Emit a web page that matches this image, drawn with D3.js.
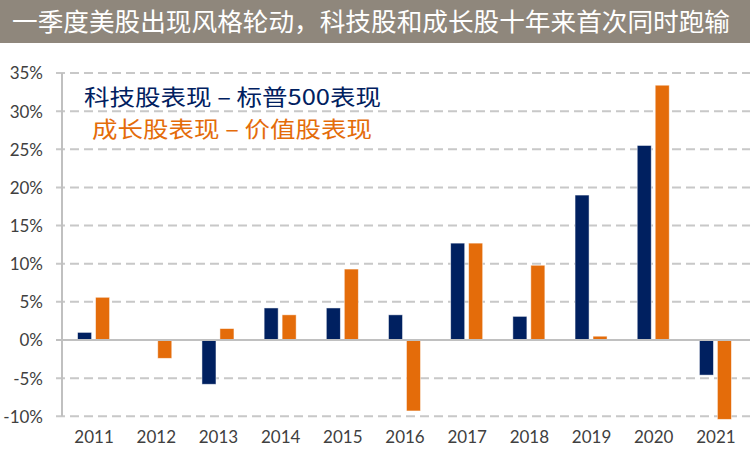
<!DOCTYPE html>
<html><head><meta charset="utf-8">
<script src="https://cdn.jsdelivr.net/npm/d3@7"></script>
<style>
html,body{margin:0;padding:0;background:#fff;}
svg{display:block;}
</style>
</head><body>
<svg id="chart" width="750" height="456"></svg>
<script>
const title = "一季度美股出现风格轮动，科技股和成长股十年来首次同时跑输";
const years = ["2011","2012","2013","2014","2015","2016","2017","2018","2019","2020","2021"];
const techMinusSP = [1.0, 0, -5.8, 4.2, 4.2, 3.3, 12.7, 3.1, 19.0, 25.5, -4.6];
const growthMinusValue = [5.6, -2.4, 1.5, 3.3, 9.3, -9.3, 12.7, 9.8, 0.5, 33.4, -10.4];
const seriesNames = ["科技股表现 – 标普500表现", "成长股表现 – 价值股表现"];
const yTicks = [35, 30, 25, 20, 15, 10, 5, 0, -5, -10];

const colors = ["#002060", "#E46C0A"];
const svg = d3.select("#chart");
const W = 750, H = 456;

// title band
svg.append("rect").attr("x",0).attr("y",0).attr("width",W).attr("height",43).attr("fill","#8F877C");
svg.append("text").attr("x",12).attr("y",31)
  .attr("font-family","'Noto Sans CJK SC', sans-serif").attr("font-size",25.5)
  .attr("fill","#fff").attr("textLength",718).attr("lengthAdjust","spacingAndGlyphs")
  .text(title);

const x0 = d3.scaleBand().domain(years).range([62, 746]).paddingInner(0).paddingOuter(0);
const y = d3.scaleLinear().domain([-10, 35]).range([416.3, 73]);
const x1 = d3.scaleBand().domain([0,1]).range([-15.5, 16.5]).paddingInner(0.22);

// gridlines
const grid = svg.append("g");
grid.selectAll("line").data(yTicks.filter(d => d !== 0)).enter().append("line")
  .attr("x1", 56).attr("x2", 750)
  .attr("y1", d => y(d)).attr("y2", d => y(d))
  .attr("stroke", "#c8c8c8").attr("stroke-width", 2).attr("stroke-dasharray", "9,5");

// y axis labels
const yAxis = d3.axisLeft(y).tickValues(yTicks).tickSize(0).tickPadding(0).tickFormat(d => d + "%");
const ya = svg.append("g").attr("transform", "translate(43,0)").call(yAxis);
ya.select(".domain").remove();
ya.selectAll("text").attr("font-family", "Lato, 'Open Sans', sans-serif").attr("font-size", 17).attr("fill", "#404040").attr("dy","0.35em");

// vertical axis line
svg.append("line").attr("x1",62).attr("x2",62).attr("y1",y(35)).attr("y2",y(-10))
  .attr("stroke","#c0c0c0").attr("stroke-width",2);

// bars
const data = years.map((yr, i) => ({yr, vals: [techMinusSP[i], growthMinusValue[i]]}));
const g = svg.append("g");
data.forEach(d => {
  const cx = x0(d.yr) + x0.bandwidth() / 2;
  d.vals.forEach((v, j) => {
    if (v === 0) return;
    g.append("rect")
      .attr("x", cx + x1(j))
      .attr("width", x1.bandwidth())
      .attr("y", y(Math.max(0, v)))
      .attr("height", Math.abs(y(v) - y(0)))
      .attr("fill", colors[j])
      .attr("stroke", "#fff").attr("stroke-opacity", 0.6).attr("stroke-width", 0.8);
  });
});

// zero line
svg.append("line").attr("x1",56).attr("x2",750).attr("y1",y(0)).attr("y2",y(0))
  .attr("stroke","#c0c0c0").attr("stroke-width",2);

// x axis labels
const xAxis = d3.axisBottom(x0).tickSize(0).tickPadding(0);
const xa = svg.append("g").attr("transform", "translate(1,437)").call(xAxis);
xa.select(".domain").remove();
xa.selectAll("text").attr("font-family", "Lato, 'Open Sans', sans-serif").attr("font-size", 17).attr("fill", "#404040").attr("dy","0.35em");

// legend texts
svg.append("text").attr("x",84).attr("y",105)
  .attr("font-family","'Noto Sans CJK SC', sans-serif").attr("font-size",22)
  .attr("fill",colors[0]).attr("textLength",297).attr("lengthAdjust","spacingAndGlyphs")
  .text(seriesNames[0]);
svg.append("text").attr("x",92).attr("y",137)
  .attr("font-family","'Noto Sans CJK SC', sans-serif").attr("font-size",22)
  .attr("fill",colors[1]).attr("textLength",280).attr("lengthAdjust","spacingAndGlyphs")
  .text(seriesNames[1]);
</script>
</body></html>
